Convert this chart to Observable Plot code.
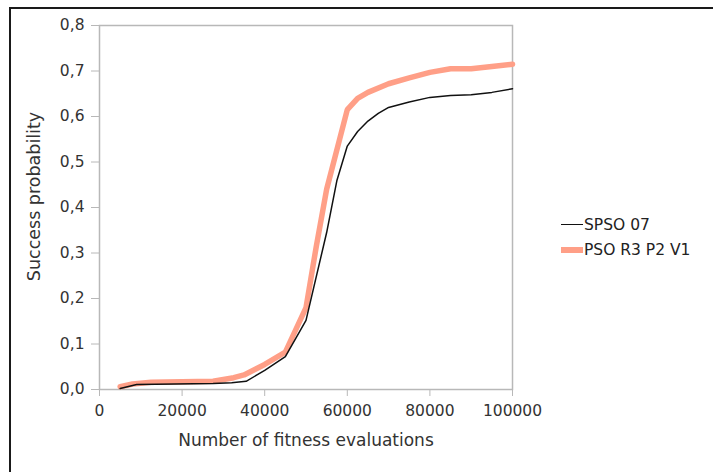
<!DOCTYPE html>
<html>
<head>
<meta charset="utf-8">
<script src="https://cdn.jsdelivr.net/npm/d3@7"></script>
<script src="https://cdn.jsdelivr.net/npm/@observablehq/plot@0.6"></script>
<style>
  html, body { margin: 0; padding: 0; background: #fff; }
  #page { position: relative; width: 713px; height: 472px; overflow: hidden; font-family: "DejaVu Sans", sans-serif; }
  #border { position: absolute; left: 9px; top: 7px; right: 0; bottom: 0; border-top: 2px solid #1a1a1a; border-left: 2px solid #1a1a1a; }
  #chart { position: absolute; left: 0; top: 0; }
  .legend { position: absolute; left: 561px; font-size: 15.5px; color: #222; }
  .legend .row { display: flex; align-items: center; height: 25px; }
  .legend .swatch { width: 22px; margin-right: 1px; }
</style>
</head>
<body>
<div id="page">
  <div id="border"></div>
  <div id="chart"></div>
  <div class="legend" style="top:212px">
    <div class="row"><span class="swatch" style="height:1.5px;background:#111"></span><span>SPSO 07</span></div>
    <div class="row"><span class="swatch" style="height:6px;background:#ff9f87"></span><span>PSO R3 P2 V1</span></div>
  </div>
</div>
<script>
// Success probability vs. number of fitness evaluations
const evalsSPSO = [5000, 9000, 27500, 32000, 35500, 40000, 45000, 50000, 55000, 57500, 60000, 62500, 65000, 67500, 70000, 75000, 80000, 85000, 90000, 95000, 100000];
const probSPSO  = [0.002, 0.011, 0.013, 0.015, 0.018, 0.042, 0.072, 0.152, 0.345, 0.46, 0.535, 0.567, 0.59, 0.607, 0.62, 0.632, 0.642, 0.646, 0.648, 0.653, 0.661];

const evalsR3 = [5000, 8000, 12500, 27500, 32500, 35000, 40000, 45000, 50000, 52500, 55000, 60000, 62500, 65000, 70000, 75000, 80000, 85000, 90000, 95000, 100000];
const probR3  = [0.006, 0.012, 0.016, 0.018, 0.026, 0.032, 0.055, 0.082, 0.18, 0.315, 0.44, 0.615, 0.64, 0.653, 0.672, 0.685, 0.697, 0.705, 0.705, 0.71, 0.715];

const xTicks = [0, 20000, 40000, 60000, 80000, 100000];
const yTicks = [0, 0.1, 0.2, 0.3, 0.4, 0.5, 0.6, 0.7, 0.8];

const spso = evalsSPSO.map((x, i) => ({x, y: probSPSO[i]}));
const r3 = evalsR3.map((x, i) => ({x, y: probR3[i]}));

const chart = Plot.plot({
  width: 713,
  height: 472,
  marginLeft: 99,
  marginRight: 201,
  marginTop: 25,
  marginBottom: 83,
  style: {fontFamily: "DejaVu Sans, sans-serif", fontSize: "15px", color: "#333", background: "transparent"},
  x: {domain: [0, 100000]},
  y: {domain: [0, 0.8]},
  marks: [
    Plot.frame({stroke: "#b8b8b8", strokeWidth: 1.5}),
    Plot.axisX({ticks: xTicks, tickSize: 7, tickPadding: 8, stroke: "#b8b8b8", fill: "#333", fontSize: 15.5,
      tickFormat: d => String(d), label: null}),
    Plot.axisY({ticks: yTicks, tickSize: 8, tickPadding: 7, stroke: "#b8b8b8", fill: "#333", fontSize: 15.5,
      tickFormat: d => d.toFixed(1).replace(".", ","), label: null}),
    Plot.text(["Number of fitness evaluations"], {frameAnchor: "bottom", dy: 51, textAnchor: "middle", lineAnchor: "middle", fontSize: 17, fill: "#333"}),
    Plot.text(["Success probability"], {frameAnchor: "left", dx: -65, dy: -11, rotate: -90, textAnchor: "middle", lineAnchor: "middle", fontSize: 17.5, fill: "#333"}),
    Plot.line(r3, {x: "x", y: "y", stroke: "#ff9f87", strokeWidth: 5.5, strokeLinejoin: "miter"}),
    Plot.line(spso, {x: "x", y: "y", stroke: "#111", strokeWidth: 1.5})
  ]
});
document.getElementById("chart").appendChild(chart);
</script>
</body>
</html>
